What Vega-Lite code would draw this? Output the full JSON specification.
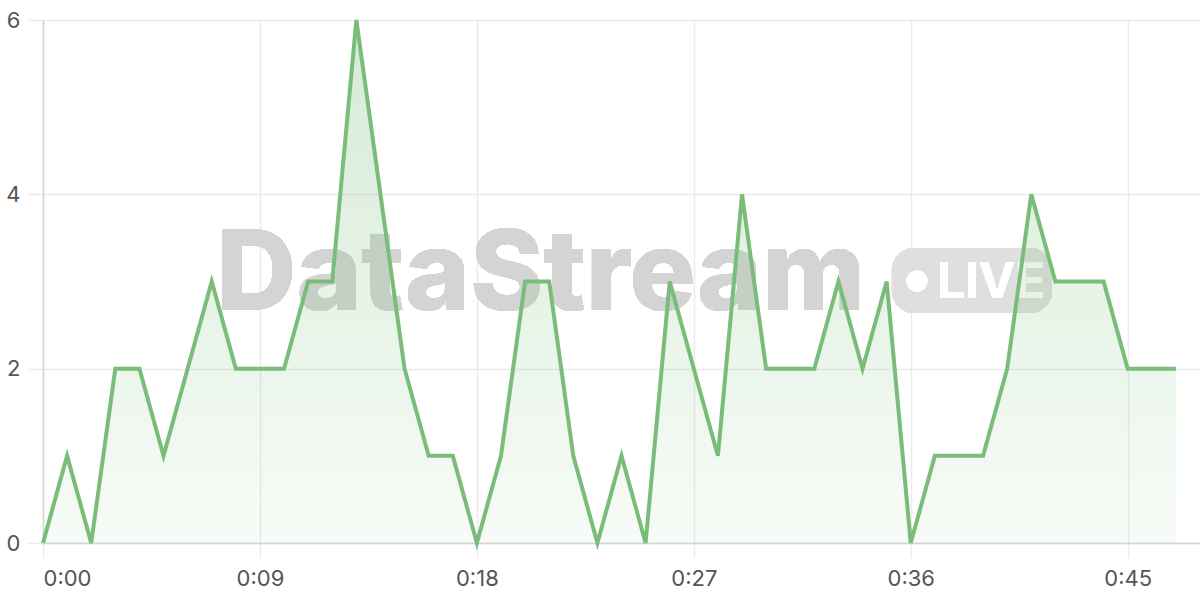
{
  "$schema": "https://vega.github.io/schema/vega-lite/v6.json",
  "width": 1157,
  "height": 523,
  "autosize": {"type": "none"},
  "padding": {"left": 43, "top": 20, "right": 0, "bottom": 57},
  "background": "white",
  "config": {
    "view": {"stroke": null},
    "font": "Inter",
    "axis": {
      "gridColor": "#ebebeb",
      "gridWidth": 1.5,
      "tickColor": "#ebebeb",
      "tickWidth": 1.5,
      "tickSize": 15,
      "domainColor": "#d4d4d4",
      "domainWidth": 1.5,
      "labelFontSize": 22,
      "labelColor": "#555555",
      "labelFont": "Inter",
      "labelPadding": 8,
      "title": null
    }
  },
  "data": {
    "values": [
      {"t": 0, "v": 0}, {"t": 1, "v": 1}, {"t": 2, "v": 0}, {"t": 3, "v": 2},
      {"t": 4, "v": 2}, {"t": 5, "v": 1}, {"t": 6, "v": 2}, {"t": 7, "v": 3},
      {"t": 8, "v": 2}, {"t": 9, "v": 2}, {"t": 10, "v": 2}, {"t": 11, "v": 3},
      {"t": 12, "v": 3}, {"t": 13, "v": 6}, {"t": 14, "v": 4}, {"t": 15, "v": 2},
      {"t": 16, "v": 1}, {"t": 17, "v": 1}, {"t": 18, "v": 0}, {"t": 19, "v": 1},
      {"t": 20, "v": 3}, {"t": 21, "v": 3}, {"t": 22, "v": 1}, {"t": 23, "v": 0},
      {"t": 24, "v": 1}, {"t": 25, "v": 0}, {"t": 26, "v": 3}, {"t": 27, "v": 2},
      {"t": 28, "v": 1}, {"t": 29, "v": 4}, {"t": 30, "v": 2}, {"t": 31, "v": 2},
      {"t": 32, "v": 2}, {"t": 33, "v": 3}, {"t": 34, "v": 2}, {"t": 35, "v": 3},
      {"t": 36, "v": 0}, {"t": 37, "v": 1}, {"t": 38, "v": 1}, {"t": 39, "v": 1},
      {"t": 40, "v": 2}, {"t": 41, "v": 4}, {"t": 42, "v": 3}, {"t": 43, "v": 3},
      {"t": 44, "v": 3}, {"t": 45, "v": 2}, {"t": 46, "v": 2}, {"t": 47, "v": 2}
    ]
  },
  "layer": [
    {
      "mark": {"type": "text", "text": "DataStream", "font": "Inter", "fontWeight": 800, "fontSize": 111, "fill": "#d4d4d4", "align": "center", "baseline": "alphabetic"},
      "encoding": {
        "x": {"datum": 20.65, "type": "quantitative"},
        "y": {"datum": 2.67, "type": "quantitative"}
      }
    },
    {
      "mark": {"type": "rect", "fill": "#dfdfdf", "cornerRadius": 22},
      "encoding": {
        "x": {"datum": 35.22, "type": "quantitative"},
        "x2": {"datum": 41.86},
        "y": {"datum": 3.384, "type": "quantitative"},
        "y2": {"datum": 2.638}
      }
    },
    {
      "mark": {"type": "point", "shape": "circle", "filled": true, "fill": "#ffffff", "opacity": 1, "size": 440},
      "encoding": {
        "x": {"datum": 36.26, "type": "quantitative"},
        "y": {"datum": 3.006, "type": "quantitative"}
      }
    },
    {
      "mark": {"type": "text", "text": "LIVE", "font": "Inter", "fontWeight": "bold", "fontSize": 49, "fill": "#ffffff", "align": "left", "baseline": "alphabetic"},
      "encoding": {
        "x": {"datum": 37.1, "type": "quantitative"},
        "y": {"datum": 2.81, "type": "quantitative"}
      }
    },
    {
      "mark": {
        "type": "area",
        "interpolate": "linear",
        "color": {
          "gradient": "linear",
          "x1": 0, "y1": 0, "x2": 0, "y2": 1,
          "stops": [
            {"offset": 0, "color": "rgba(124,191,124,0.32)"},
            {"offset": 1, "color": "rgba(124,191,124,0.06)"}
          ]
        }
      },
      "encoding": {
        "x": {
          "field": "t", "type": "quantitative",
          "scale": {"domain": [0, 48], "nice": false, "zero": false},
          "axis": {
            "values": [0, 9, 18, 27, 36, 45],
            "labelExpr": "floor(datum.value/60) + ':' + (datum.value % 60 < 10 ? '0' : '') + (datum.value % 60)",
            "grid": true,
            "labelPadding": 10
          }
        },
        "y": {
          "field": "v", "type": "quantitative",
          "scale": {"domain": [0, 6], "nice": false},
          "axis": {"values": [0, 2, 4, 6], "format": "d", "grid": true, "labelPadding": 8}
        }
      }
    },
    {
      "mark": {"type": "line", "color": "#7abd7a", "strokeWidth": 4, "strokeJoin": "miter", "strokeCap": "butt"},
      "encoding": {
        "x": {"field": "t", "type": "quantitative"},
        "y": {"field": "v", "type": "quantitative"}
      }
    }
  ]
}
